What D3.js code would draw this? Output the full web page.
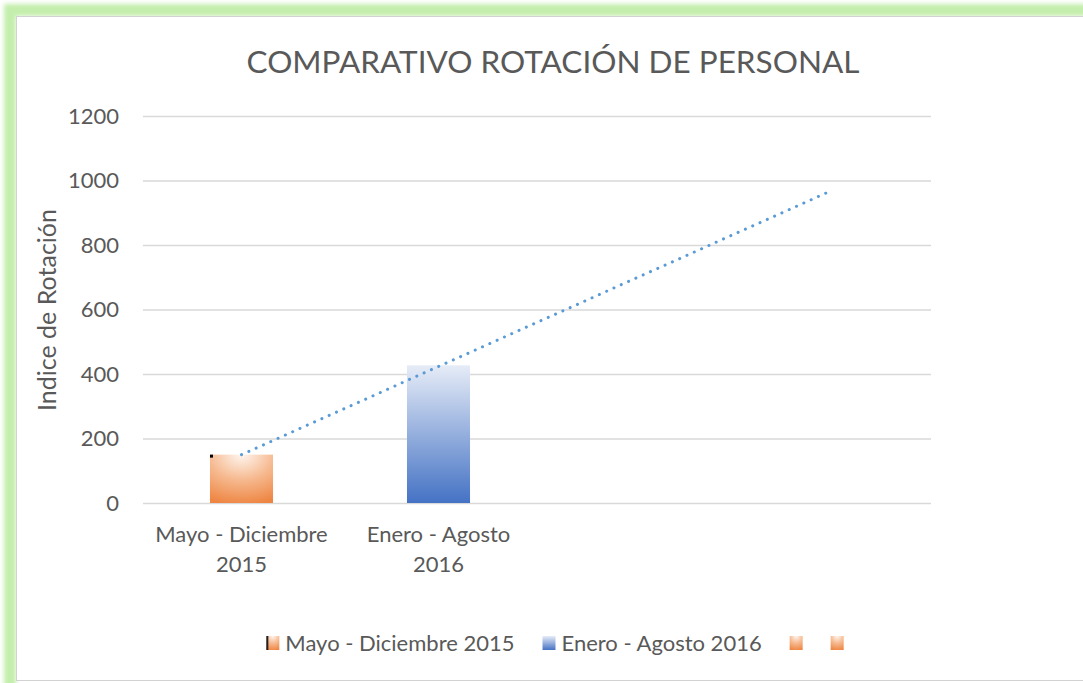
<!DOCTYPE html>
<html>
<head>
<meta charset="utf-8">
<script src="https://cdn.jsdelivr.net/npm/d3@7"></script>
<style>
  body { margin: 0; background: #fff; }
  svg { display: block; }
  text { font-family: Lato, "Open Sans", sans-serif; fill: #595959; }
</style>
</head>
<body>
<script>
// chart data
const categories = ["Mayo - Diciembre 2015", "Enero - Agosto 2016", "", ""];
const values = [150, 427, null, null];
const legendNames = ["Mayo - Diciembre 2015", "Enero - Agosto 2016", "", ""];
const yTicks = [0, 200, 400, 600, 800, 1000, 1200];
// linear trendline, read at first and last category
const trendPoints = [[0, 150], [3, 970]];

const title = "COMPARATIVO ROTACIÓN DE PERSONAL";
const yTitle = "Indice de Rotación";

const W = 1083, H = 683;
const plot = { left: 143, right: 931, top: 116, bottom: 503 };

const svg = d3.select("body").append("svg")
    .attr("width", W)
    .attr("height", H);

const defs = svg.append("defs");

defs.append("filter").attr("id", "glow")
    .attr("x", "-5%").attr("y", "-5%").attr("width", "110%").attr("height", "110%")
  .append("feGaussianBlur").attr("stdDeviation", 2);

// orange path-like gradient: light at top centre, darker at edges
let og = defs.append("radialGradient").attr("id", "gOrange")
    .attr("cx", 0.5).attr("cy", 0).attr("r", 1.05).attr("fx", 0.5).attr("fy", 0);
og.append("stop").attr("offset", 0).attr("stop-color", "#fef6f0");
og.append("stop").attr("offset", 0.5).attr("stop-color", "#f6b98f");
og.append("stop").attr("offset", 1).attr("stop-color", "#ee8542");

let bg = defs.append("linearGradient").attr("id", "gBlue")
    .attr("x1", 0).attr("y1", 0).attr("x2", 0).attr("y2", 1);
bg.append("stop").attr("offset", 0).attr("stop-color", "#e6ecf7");
bg.append("stop").attr("offset", 1).attr("stop-color", "#4472c4");

const fills = ["url(#gOrange)", "url(#gBlue)", "url(#gOrange)", "url(#gOrange)"];

// green frame glow + white chart area
svg.append("rect")
    .attr("x", 10).attr("y", 10).attr("width", 1200).attr("height", 720)
    .attr("fill", "none").attr("stroke", "#c3eeac").attr("stroke-width", 12)
    .attr("filter", "url(#glow)");
svg.append("rect")
    .attr("x", 16.5).attr("y", 16.5).attr("width", 1200).attr("height", 664)
    .attr("fill", "#fff").attr("stroke", "#d2d2d2").attr("stroke-width", 1);

const x = d3.scaleBand()
    .domain(d3.range(categories.length))
    .range([plot.left, plot.right]);

const y = d3.scaleLinear()
    .domain([0, 1200])
    .range([plot.bottom, plot.top]);

// gridlines + y ticks
const yAxis = svg.append("g")
    .attr("transform", `translate(${plot.left},0)`)
    .call(d3.axisLeft(y).tickValues(yTicks).tickFormat(d3.format("d"))
        .tickSize(-(plot.right - plot.left)).tickPadding(24));
yAxis.select(".domain").remove();
yAxis.selectAll(".tick line").attr("stroke", "#d9d9d9").attr("stroke-width", 1.5);
yAxis.selectAll(".tick text")
    .attr("font-size", 22)
    .style("font-family", "Lato, 'Open Sans', sans-serif")
    .attr("fill", "#595959");

// bars
const barW = x.bandwidth() * 0.32;
svg.append("g").selectAll("rect")
    .data(values.map((v, i) => ({ v, i })).filter(d => d.v != null))
    .enter().append("rect")
    .attr("x", d => x(d.i) + (x.bandwidth() - barW) / 2)
    .attr("y", d => y(d.v))
    .attr("width", barW)
    .attr("height", d => y(0) - y(d.v))
    .attr("fill", d => fills[d.i]);

// small dark corner mark on first bar
svg.append("rect")
    .attr("x", x(0) + (x.bandwidth() - barW) / 2)
    .attr("y", y(values[0]))
    .attr("width", 3).attr("height", 3)
    .attr("fill", "#000");

// trendline
const line = d3.line()
    .x(d => x(d[0]) + x.bandwidth() / 2)
    .y(d => y(d[1]));
svg.append("path")
    .datum(trendPoints)
    .attr("d", line)
    .attr("fill", "none")
    .attr("stroke", "#5b9bd5")
    .attr("stroke-width", 3)
    .attr("stroke-linecap", "round")
    .attr("stroke-dasharray", "0.1 7.9");

// category labels (wrapped on last space)
const catG = svg.append("g");
categories.forEach((c, i) => {
    if (!c) return;
    const k = c.lastIndexOf(" ");
    const lines = [c.slice(0, k), c.slice(k + 1)];
    lines.forEach((l, j) => {
        catG.append("text")
            .attr("x", x(i) + x.bandwidth() / 2)
            .attr("y", 542 + j * 30)
            .attr("text-anchor", "middle")
            .attr("font-size", 22)
            .text(l);
    });
});

// title
svg.append("text")
    .attr("x", 553)
    .attr("y", 73)
    .attr("text-anchor", "middle")
    .attr("font-size", 31.5)
    .text(title);

// y axis title
svg.append("text")
    .attr("transform", "translate(56,310) rotate(-90)")
    .attr("text-anchor", "middle")
    .attr("font-size", 25)
    .text(yTitle);

// legend
const leg = svg.append("g");
let cx = 0;
legendNames.forEach((name, i) => {
    const g = leg.append("g").attr("transform", `translate(${cx},0)`);
    g.append("rect")
        .attr("x", 0).attr("y", -7)
        .attr("width", 13).attr("height", 14)
        .attr("fill", fills[i]);
    if (i === 0) {
        g.append("rect").attr("x", 0).attr("y", -7).attr("width", 2).attr("height", 14).attr("fill", "#222");
    }
    let w = 13;
    if (name) {
        const t = g.append("text")
            .attr("x", 19).attr("y", 8)
            .attr("font-size", 22)
            .text(name);
        w = 19 + t.node().getComputedTextLength();
    }
    cx += w + 28;
});
cx -= 28;
leg.attr("transform", `translate(${555 - cx / 2},643)`);
</script>
</body>
</html>
